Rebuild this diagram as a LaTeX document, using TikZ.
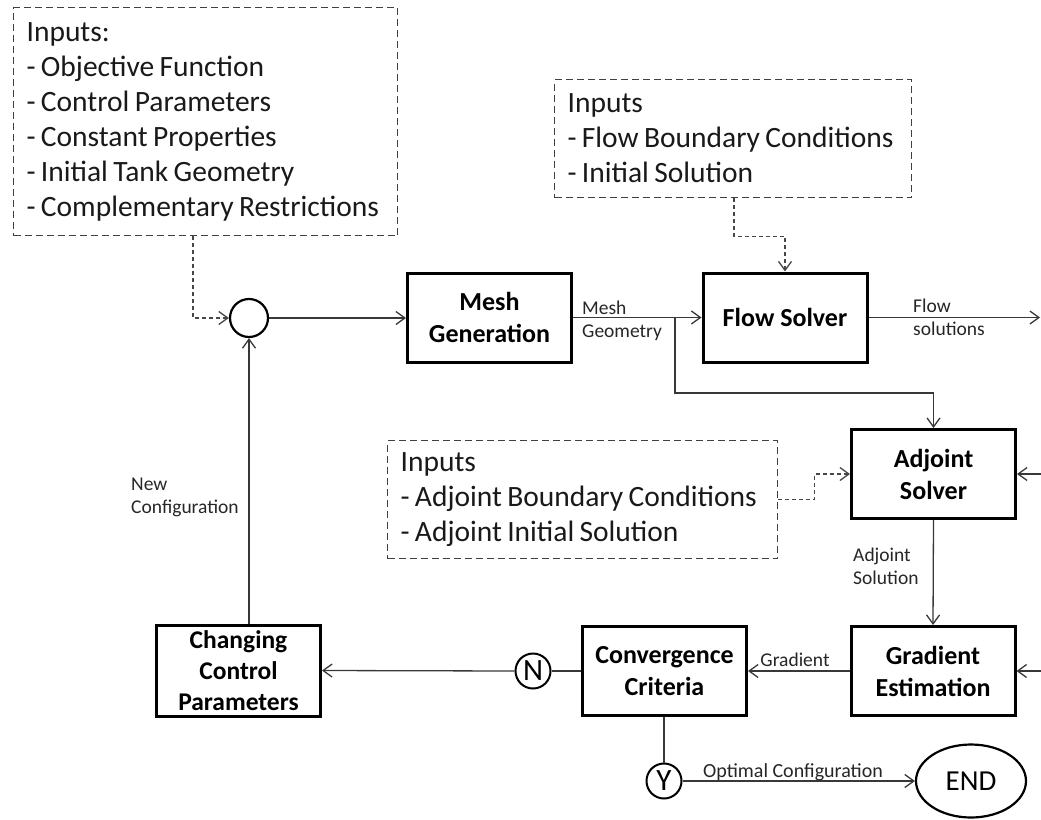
\documentclass[tikz,border=0pt]{standalone}
\usepackage{fontspec}
\setmainfont{Carlito}
\newfontfamily\inputfont{Carlito}[WordSpace=0.8]
\usetikzlibrary{arrows.meta,shapes.geometric}
\begin{document}
\begin{tikzpicture}[x=1pt,y=-1pt,
  inbox/.style={draw=black!75, line width=1.2pt, dash pattern=on 7pt off 4pt, align=flush left, anchor=north west,
     inner xsep=13pt, inner ysep=0pt, font=\inputfont\fontsize{29.5}{35}\selectfont, text=black!90},
  procbox/.style={draw=black, line width=3pt, minimum width=164pt, minimum height=89pt, align=center,
     font=\bfseries\fontsize{26}{32}\selectfont, inner sep=0pt},
  junc/.style={draw=black, circle, line width=2.2pt, inner sep=0pt, font=\fontsize{31}{31}\selectfont},
  conn/.style={draw=black!78, line width=1.3pt},
  arr/.style={conn, -{Straight Barb[length=9pt,width=13pt]}},
  dasharr/.style={draw=black!72, line width=1.3pt, dash pattern=on 4pt off 3pt, -{Straight Barb[length=9pt,width=13pt]}},
  lbl/.style={font=\fontsize{19.5}{23}\selectfont, text=black!85, align=left, inner sep=0pt}
]
\useasboundingbox (0,0) rectangle (1041,819);

% input boxes
\node[inbox, text width=358pt, minimum height=228pt] (in1) at (13,7)
 {Inputs:\\- Objective Function\\- Control Parameters\\- Constant Properties\\- Initial Tank Geometry\\- Complementary Restrictions};
\node[inbox, text width=331pt, minimum height=118pt] (in2) at (554,79)
 {Inputs\\- Flow Boundary Conditions\\- Initial Solution};
\node[inbox, text width=364pt, minimum height=118pt] (in3) at (387,440)
 {Inputs\\- Adjoint Boundary Conditions\\- Adjoint Initial Solution};

% process boxes
\node[procbox] (mesh) at (489.5,317.5) {Mesh\\Generation};
\node[procbox] (flow) at (785,317.5) {Flow Solver};
\node[procbox] (adj) at (933.5,474) {Adjoint\\Solver};
\node[procbox] (grad) at (933,671) {Gradient\\Estimation};
\node[procbox] (conv) at (664.5,671) {Convergence\\Criteria};
\node[procbox, minimum height=91pt, font=\bfseries\fontsize{25.5}{31}\selectfont] (chg) at (238.5,670.5) {Changing\\Control\\Parameters};

% junctions
\node[junc, minimum size=38pt] (sum) at (249,318) {};
\node[junc, minimum size=35pt, line width=2pt] (N) at (533,671) {N};
\node[junc, minimum size=35pt, line width=2pt] (Y) at (664,781) {Y};
\node[draw=black, ellipse, line width=2.2pt, minimum width=110pt, minimum height=73pt,
      font=\fontsize{29}{29}\selectfont] (end) at (971,781) {END};

% free ends
\coordinate (fout) at (1040,317.5);
\coordinate (ain) at (1041,474);
\coordinate (gin) at (1041,671);

% dashed input connectors
\draw[dasharr] ([xshift=180pt]in1.south west) |- (sum.west);
\draw[dasharr] ([xshift=180pt]in2.south west) -- ++(0,38) -| (flow.north);
\draw[dasharr] (in3.east) -- ++(36,0) |- (adj.west);

% main connectors
\draw[arr] (sum.east) -- (sum.east -| mesh.west);
\draw[arr] (mesh.east) -- (flow.west);
\draw[arr] ([xshift=102pt]mesh.east) |- ([yshift=35pt]adj.north) -- (adj.north);
\draw[arr] (flow.east) -- (fout);
\draw[arr] (ain) -- (adj.east);
\draw[arr] (gin) -- (grad.east);
\draw[arr] (adj.south) -- (grad.north);
\draw[arr] (grad.west) -- (conv.east);
\draw[conn] (conv.west) -- (N.east);
\draw[arr] (N.west) -- (chg.east);
\draw[arr] (chg.north -| sum.south) -- (sum.south);
\draw[conn] (conv.south -| Y.north) -- (Y.north);
\draw[arr] (Y.east) -- (end.west);

% labels
\node[lbl, anchor=west] (lmesh) at (582,321) {Mesh\\Geometry};
\node[lbl, anchor=west] (lflow) at (913,317) {Flow\\solutions};
\node[lbl, anchor=west] (ladj) at (853,566) {Adjoint\\Solution};
\node[lbl] (lgrad) at (795,660) {Gradient};
\node[lbl, anchor=west] (lnew) at (131,497) {New\\Configuration};
\node[lbl, font=\fontsize{20}{23}\selectfont] (lopt) at (793,772) {Optimal Configuration};
\end{tikzpicture}
\end{document}
